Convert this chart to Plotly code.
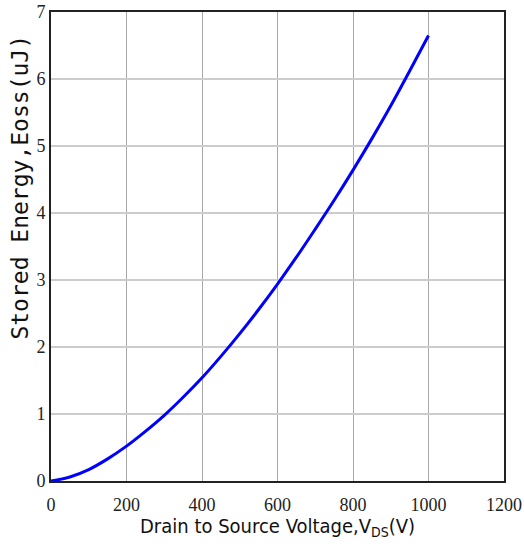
import plotly.graph_objects as go

vds = [0, 50, 100, 150, 200, 250, 300, 350, 400, 450, 500, 550, 600, 650, 700, 750, 800, 850, 900, 950, 1000]
eoss = [0, 0.06, 0.17, 0.33, 0.52, 0.74, 0.98, 1.25, 1.54, 1.86, 2.20, 2.56, 2.94, 3.34, 3.76, 4.19, 4.64, 5.11, 5.60, 6.12, 6.65]

x_ticks = [0, 200, 400, 600, 800, 1000, 1200]
y_ticks = [0, 1, 2, 3, 4, 5, 6, 7]

fig = go.Figure()
fig.add_trace(go.Scatter(x=vds, y=eoss, mode="lines",
                         line=dict(color="#0000ff", width=3, shape="spline"),
                         showlegend=False))

tickfont = dict(family="Liberation Serif, serif", size=18, color="#222")
fig.update_layout(
    width=524, height=547,
    margin=dict(l=51, r=20, t=12, b=66),
    paper_bgcolor="white", plot_bgcolor="white",
    xaxis=dict(range=[0, 1200], tickvals=x_ticks, ticks="", tickfont=tickfont,
               ticklabelstandoff=6, ticklabeloverflow="allow",
               showgrid=True, gridcolor="#a8a8a8", gridwidth=1,
               showline=True, linecolor="#222", linewidth=2, mirror=True,
               zeroline=False, automargin=False),
    yaxis=dict(range=[0, 7], tickvals=y_ticks, ticks="", tickfont=tickfont,
               ticklabeloverflow="allow",
               showgrid=True, gridcolor="#cccccc", gridwidth=2,
               showline=True, linecolor="#222", linewidth=2, mirror=True,
               zeroline=False, automargin=False),
    annotations=[
        dict(text="Stored Energy,Eoss(uJ)", textangle=-90,
             xref="paper", yref="paper", x=-0.068, y=0.626,
             xanchor="center", yanchor="middle", showarrow=False,
             font=dict(family="DejaVu Sans Mono, Liberation Mono, monospace", size=23, color="#111")),
        dict(text="Drain to Source Voltage,V<sub>DS</sub>(V)",
             xref="paper", yref="paper", x=0.5, y=-0.099,
             xanchor="center", yanchor="middle", showarrow=False,
             font=dict(family="DejaVu Sans Condensed, Liberation Sans Narrow, sans-serif", size=20, color="#111")),
    ],
)

fig.write_html("out.html", config={"displayModeBar": False},
               post_script="document.body.style.margin='0';")
